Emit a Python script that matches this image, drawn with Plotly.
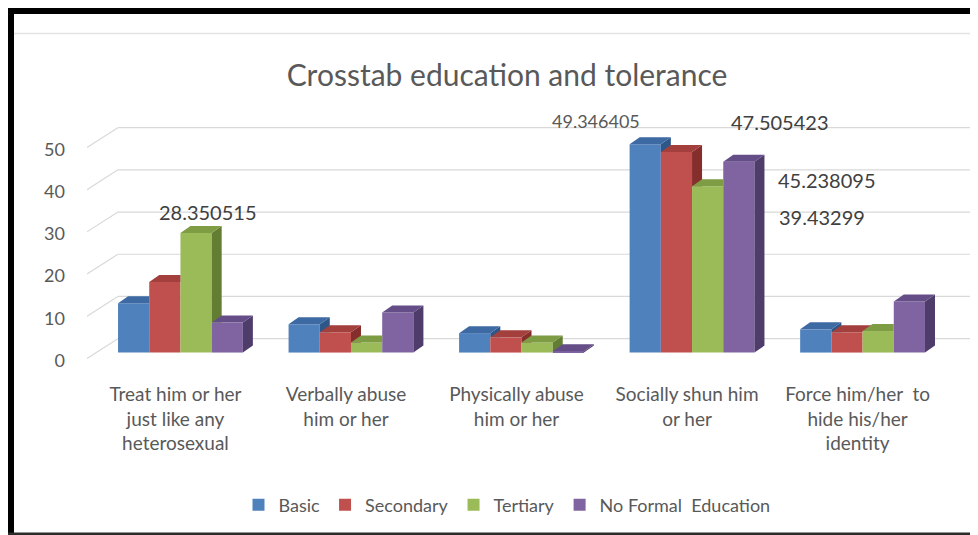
import plotly.graph_objects as go

# ---------------- data ----------------
categories = [
    "Treat him or her<br>just like any<br>heterosexual",
    "Verbally abuse<br>him or her",
    "Physically abuse<br>him or her",
    "Socially shun him<br>or her",
    "Force him/her  to<br>hide his/her<br>identity",
]
series_names = ["Basic", "Secondary", "Tertiary", "No Formal  Education"]
basic = [11.7, 6.7, 4.6, 49.346405, 5.5]
secondary = [16.7, 4.8, 3.6, 47.505423, 4.8]
tertiary = [28.350515, 2.4, 2.4, 39.43299, 5.1]
no_formal = [7.1, 9.5, 0.3, 45.238095, 12.1]
y_ticks = [0, 10, 20, 30, 40, 50]

# ---------------- style ----------------
front_cols = ["#4F81BD", "#C0504D", "#9BBB59", "#8064A2"]
top_cols = ["#3D6AA3", "#A33F3C", "#7E9C44", "#654E88"]
side_cols = ["#2E5789", "#862E2C", "#637E33", "#4E3C6B"]
FONT = "Lato, 'Open Sans', sans-serif"
GREY = "#595959"

# the page body has an 8px margin, so the figure is drawn at (8, 8)
OFF = 8
W, H = 978 - OFF, 535 - OFF
L, R, T, B = 79, 8, 108, 174
PW, PH = W - L - R, H - T - B
XR = [-0.548, 4.63]
YR = [-2.0, 56.06]
BW = 0.183      # bar width (category units)
DX = 0.0587     # 3D depth offset, x units
DY = 1.66       # 3D depth offset, y units
WALL_DX0, WALL_DX1 = -0.548, -0.367
WALL_Y0, WALL_Y1 = -1.4, 3.3

data_series = [basic, secondary, tertiary, no_formal]
pos = list(range(len(categories)))


def clip(poly, axis, val, keep_greater):
    out = []
    n = len(poly)
    if n == 0:
        return out

    def inside(p):
        return p[axis] >= val if keep_greater else p[axis] <= val

    def inter(p, q):
        t = (val - p[axis]) / (q[axis] - p[axis])
        return (p[0] + t * (q[0] - p[0]), p[1] + t * (q[1] - p[1]))

    for i in range(n):
        cur, prev = poly[i], poly[i - 1]
        if inside(cur):
            if not inside(prev):
                out.append(inter(prev, cur))
            out.append(cur)
        elif inside(prev):
            out.append(inter(prev, cur))
    return out


fig = go.Figure()

# front faces as real bars
for k, (name, vals) in enumerate(zip(series_names, data_series)):
    fig.add_trace(go.Bar(
        x=pos, y=vals, name=name, width=BW, offset=-2 * BW + k * BW,
        marker=dict(color=front_cols[k], line=dict(width=0)),
        hoverinfo="name+y",
    ))

# 3D top and side faces (computed from data, clipped by the next bar's front)
for k, vals in enumerate(data_series):
    sx, sy, tx, ty = [], [], [], []
    for i, h in enumerate(vals):
        x0 = i - 2 * BW + k * BW
        x1 = x0 + BW
        hn = data_series[k + 1][i] if k + 1 < len(data_series) else None
        side = [(x1, 0), (x1 + DX, DY), (x1 + DX, h + DY), (x1, h)]
        top = [(x0, h), (x1, h), (x1 + DX, h + DY), (x0 + DX, h + DY)]
        if hn is not None:
            side_parts = [clip(side, 1, hn, True)]
            top_parts = [clip(top, 0, x1, False),
                         clip(clip(top, 0, x1, True), 1, hn, True)]
        else:
            side_parts = [side]
            top_parts = [top]
        for p in side_parts:
            if len(p) >= 3:
                sx += [q[0] for q in p] + [p[0][0], None]
                sy += [q[1] for q in p] + [p[0][1], None]
        for p in top_parts:
            if len(p) >= 3:
                tx += [q[0] for q in p] + [p[0][0], None]
                ty += [q[1] for q in p] + [p[0][1], None]
    fig.add_trace(go.Scatter(x=sx, y=sy, mode="lines", fill="toself",
                             fillcolor=side_cols[k], line=dict(width=0, color=side_cols[k]),
                             showlegend=False, hoverinfo="skip"))
    fig.add_trace(go.Scatter(x=tx, y=ty, mode="lines", fill="toself",
                             fillcolor=top_cols[k], line=dict(width=0, color=top_cols[k]),
                             showlegend=False, hoverinfo="skip"))

# back-wall gridlines
shapes = []
for v in y_ticks:
    shapes.append(dict(type="line", xref="x", yref="y", layer="below",
                       x0=WALL_DX0, y0=v + WALL_Y0, x1=WALL_DX1, y1=v + WALL_Y1,
                       line=dict(color="#D9D9D9", width=1.2)))
    shapes.append(dict(type="line", xref="x", yref="y", layer="below",
                       x0=WALL_DX1, y0=v + WALL_Y1, x1=XR[1], y1=v + WALL_Y1,
                       line=dict(color="#D9D9D9", width=1.2)))


def px(x):  # screen pixel -> paper
    return (x - OFF - L) / PW


def py(y):
    return (H - B - (y - OFF)) / PH


# frame
shapes += [
    dict(type="rect", xref="paper", yref="paper", x0=px(7), x1=px(990), y0=py(0), y1=py(14),
         fillcolor="black", line=dict(width=0), layer="above"),
    dict(type="rect", xref="paper", yref="paper", x0=px(0), x1=px(14), y0=py(0), y1=py(545),
         fillcolor="black", line=dict(width=0), layer="above"),
    dict(type="rect", xref="paper", yref="paper", x0=px(7), x1=px(990), y0=py(532.5), y1=py(545),
         fillcolor="#2b2b2b", line=dict(width=0), layer="above"),
    dict(type="line", xref="paper", yref="paper", x0=px(14), x1=px(990), y0=py(33.5), y1=py(33.5),
         line=dict(color="#E3E3E3", width=1.5)),
]

# data labels (manually placed in the original)
annotations = []
label_specs = [  # (series index, category index, xshift, yshift, colour, size)
    (2, 0, 12, 21, "#404040", 20),
    (0, 3, -49, 23, GREY, 18),
    (1, 3, 104, 30, "#404040", 20),
    (3, 3, 88, -18, "#404040", 20),
    (2, 3, 114, -31, "#404040", 20),
]
for k, i, xs, ys, col, sz in label_specs:
    v = data_series[k][i]
    annotations.append(dict(
        x=i - 2 * BW + k * BW + BW / 2, y=v, xref="x", yref="y",
        text=f"{v}", showarrow=False, xshift=xs, yshift=ys,
        font=dict(family=FONT, size=sz, color=col),
    ))

fig.update_layout(
    width=W, height=H,
    margin=dict(l=L, r=R, t=T, b=B),
    paper_bgcolor="white", plot_bgcolor="white",
    barmode="overlay",
    title=dict(text="Crosstab education and tolerance", x=(507 - OFF) / W, xref="container",
               y=1 - (75 - OFF) / H, yref="container", xanchor="center", yanchor="middle",
               font=dict(family=FONT, size=30, color=GREY)),
    xaxis=dict(range=XR, tickvals=pos, ticktext=categories, showgrid=False,
               zeroline=False, showline=False, ticks="", ticklabelstandoff=20,
               ticklabelshift=-5,
               tickfont=dict(family=FONT, size=19, color=GREY), fixedrange=True),
    yaxis=dict(range=YR, tickvals=y_ticks, showgrid=False, zeroline=False,
               showline=False, ticks="", ticklabelstandoff=21, ticklabelshift=8,
               tickfont=dict(family=FONT, size=18, color=GREY), fixedrange=True),
    legend=dict(orientation="h", x=(507 - OFF) / W, xref="container", xanchor="center",
                y=1 - (505 - OFF) / H, yref="container", yanchor="middle",
                font=dict(family=FONT, size=18, color=GREY), traceorder="normal"),
    shapes=shapes,
    annotations=annotations,
    showlegend=True,
)

fig.write_html("out.html")
